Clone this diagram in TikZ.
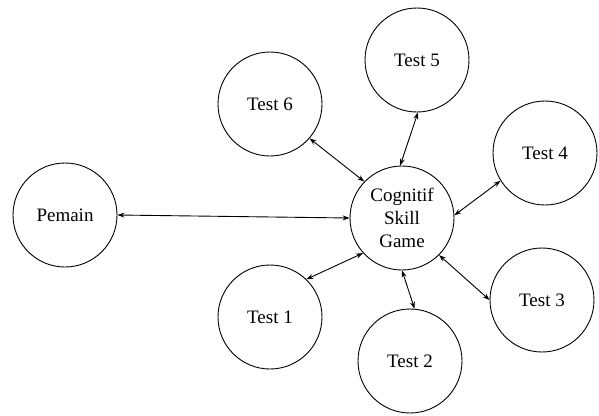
\documentclass[tikz,border=0pt]{standalone}
\usepackage{fontspec}
\setmainfont{Liberation Serif}
\usetikzlibrary{arrows.meta}
\begin{document}
\begin{tikzpicture}[x=1pt,y=-1pt,
  bubble/.style={circle,draw,line width=0.9pt,minimum size=104pt,inner sep=0pt,align=center,
    font=\fontsize{19}{23}\selectfont},
  link/.style={line width=0.9pt,{Stealth[length=7pt,width=5pt]}-{Stealth[length=7pt,width=5pt]}}]
\useasboundingbox (0,0) rectangle (599,415);
\node[bubble] (pem) at (65,215) {Pemain};
\node[bubble] (cog) at (402,218) {Cognitif\\Skill\\Game};
\node[bubble] (t6) at (270,104) {Test 6};
\node[bubble] (t5) at (417,60) {Test 5};
\node[bubble] (t4) at (545,153) {Test 4};
\node[bubble] (t3) at (542,300) {Test 3};
\node[bubble] (t2) at (410,361) {Test 2};
\node[bubble] (t1) at (270,317) {Test 1};
\draw[link] (pem.0) -- (cog.180);
\draw[link] (t6.-41) -- (cog.136);
\draw[link] (t5.-89) -- (cog.92);
\draw[link] (t4.212) -- (cog.3);
\draw[link] (t3.180) -- (cog.-45);
\draw[link] (t2.85) -- (cog.-90);
\draw[link] (t1.46) -- (cog.222);
\end{tikzpicture}
\end{document}
